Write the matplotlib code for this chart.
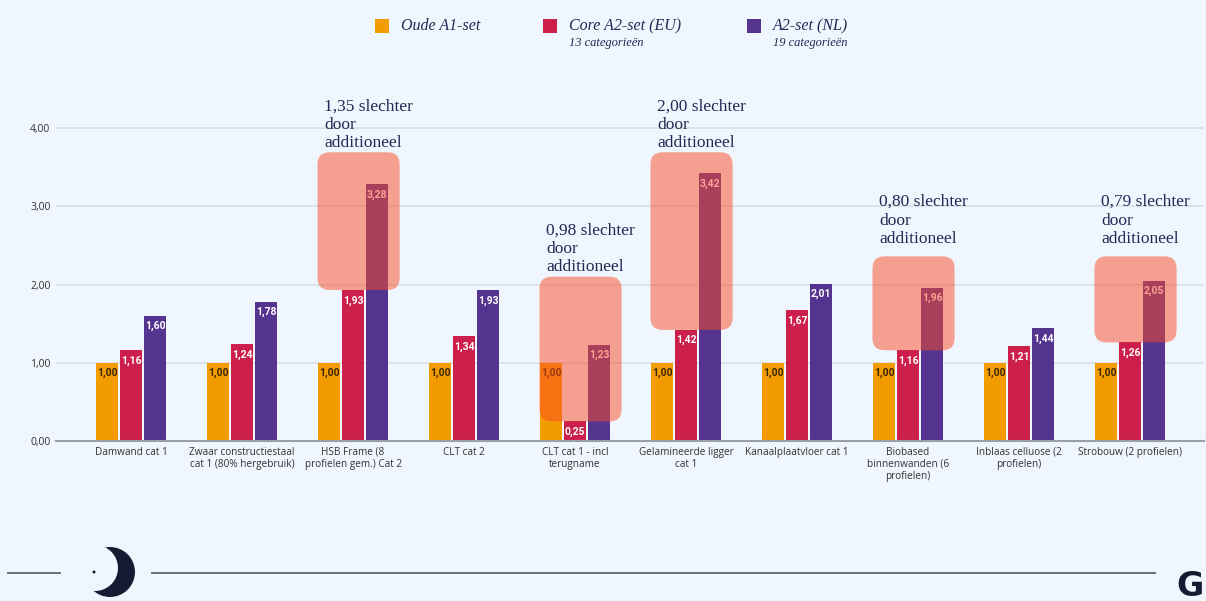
import matplotlib.pyplot as plt
from matplotlib.patches import Rectangle, FancyBboxPatch, Circle

# data
categories = [
    "Damwand cat 1",
    "Zwaar constructiestaal\ncat 1 (80% hergebruik)",
    "HSB Frame (8\nprofielen gem.) Cat 2",
    "CLT cat 2",
    "CLT cat 1 - incl\nterugname",
    "Gelamineerde ligger\ncat 1",
    "Kanaalplaatvloer cat 1",
    "Biobased\nbinnenwanden (6\nprofielen)",
    "Inblaas celluose (2\nprofielen)",
    "Strobouw (2 profielen)",
]
oude_a1 = [1.00, 1.00, 1.00, 1.00, 1.00, 1.00, 1.00, 1.00, 1.00, 1.00]
core_a2_eu = [1.16, 1.24, 1.93, 1.34, 0.25, 1.42, 1.67, 1.16, 1.21, 1.26]
a2_nl = [1.60, 1.78, 3.28, 1.93, 1.23, 3.42, 2.01, 1.96, 1.44, 2.05]

# highlighted groups: index, difference text, top of box, bottom of note
note_idx = [2, 4, 5, 7, 9]
note_diff = ["1,35", "0,98", "2,00", "0,80", "0,79"]
box_top = [3.69, 2.10, 3.69, 2.36, 2.36]
note_y = [3.70, 2.12, 3.70, 2.48, 2.48]

yticks = [0, 1, 2, 3, 4]

bg = "#eff6fd"
orange = "#f39c00"
red = "#cd1f4b"
purple = "#553490"
navy = "#1f2a55"

W, H = 1206, 601


def px(x, y):
    return x / W, (H - y) / H


def fmt(v):
    return f"{v:.2f}".replace(".", ",")


fig = plt.figure(figsize=(W / 100, H / 100), dpi=100, facecolor=bg)
ax = fig.add_axes([56 / W, 160 / H, (1204 - 56) / W, (441 - 112.35) / H])
ax.set_facecolor(bg)

x = list(range(len(categories)))
width = 0.198
off = 0.216
series = [(oude_a1, orange, -off, "#3a2600"), (core_a2_eu, red, 0, "white"), (a2_nl, purple, off, "white")]
for vals, col, dx, tcol in series:
    xs = [i + dx for i in x]
    ax.bar(xs, vals, width, color=col, zorder=2)
    for xi, v in zip(xs, vals):
        ax.annotate(fmt(v), (xi, v), xytext=(0, -7.5), textcoords="offset points",
                    ha="center", va="center", fontsize=7.5, fontweight="bold",
                    color=tcol, family="Roboto", zorder=3)

# highlight boxes and notes
aspect = (1 / 78.25) / (1 / 111)
for i, d, top, ny in zip(note_idx, note_diff, box_top, note_y):
    left = i - 0.32
    bottom = core_a2_eu[i]
    box = FancyBboxPatch((left, bottom), 0.74, top - bottom,
                         boxstyle="round,pad=0,rounding_size=0.11",
                         mutation_aspect=aspect, facecolor="#fb4a27", alpha=0.5,
                         edgecolor="none", zorder=4, clip_on=False)
    ax.add_patch(box)
    ax.text(left + 0.06, ny, f"{d} slechter\ndoor\nadditioneel", ha="left", va="bottom",
            fontsize=12.5, family="Liberation Serif", color=navy, linespacing=1.2,
            zorder=5, clip_on=False)

ax.set_xlim(-0.676, 9.667)
ax.set_ylim(0, 4.2)
ax.set_yticks(yticks)
ax.set_yticklabels([fmt(v) for v in yticks], fontsize=7.5, color="#333333", family="Open Sans")
ax.set_xticks(x)
ax.set_xticklabels(categories, fontsize=7.2, color="#333333", family="Open Sans", linespacing=1.15)
ax.tick_params(length=0, pad=4)
ax.grid(axis="y", color="#d8dee6", lw=1.2, zorder=0)
for s in ["top", "right", "left"]:
    ax.spines[s].set_visible(False)
ax.spines["bottom"].set_color("#9aa0a8")
ax.spines["bottom"].set_linewidth(1.5)

# legend
legend = [("Oude A1-set", orange, 375, None), ("Core A2-set (EU)", red, 543, "13 categorieën"),
          ("A2-set (NL)", purple, 747, "19 categorieën")]
for name, col, lx, sub in legend:
    fig.add_artist(Rectangle(px(lx, 33), 14 / W, 14 / H, transform=fig.transFigure,
                             facecolor=col, edgecolor="none"))
    fig.text(*px(lx + 26, 26), name, fontsize=11.5, style="italic", family="Liberation Serif",
             color=navy, va="center", ha="left")
    if sub:
        fig.text(*px(lx + 26, 43), sub, fontsize=9, style="italic", family="Liberation Serif",
                 color=navy, va="center", ha="left")

# footer decoration
fig.add_artist(plt.Line2D([8 / W, 60 / W], [28 / H, 28 / H], color="#5a6275", lw=1.3))
fig.add_artist(plt.Line2D([152 / W, 1155 / W], [28 / H, 28 / H], color="#5a6275", lw=1.3))
inch = fig.dpi_scale_trans
fig.add_artist(Circle((1.10, 0.29), 0.25, transform=inch, facecolor="#161b33", edgecolor="none"))
fig.add_artist(Circle((0.95, 0.33), 0.23, transform=inch, facecolor=bg, edgecolor="none"))
fig.add_artist(Circle((0.94, 0.29), 0.015, transform=inch, facecolor="#161b33", edgecolor="none"))
fig.text(*px(1176, 586), "G", fontsize=24, fontweight="bold", color="#161b33", va="center", ha="left")

fig.savefig("out.png", dpi=100, facecolor=bg)
